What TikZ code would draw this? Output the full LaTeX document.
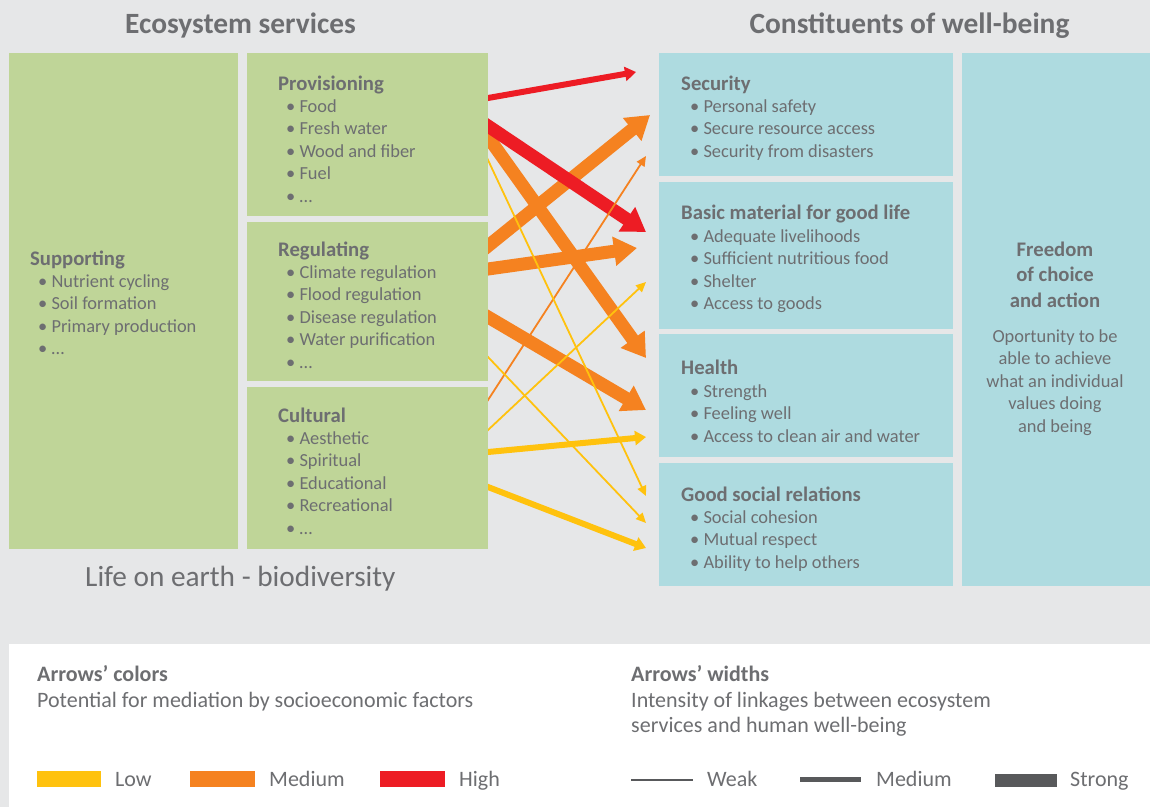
\documentclass[tikz,border=0pt]{standalone}
\usepackage{fontspec}
\setmainfont{Carlito}
\usetikzlibrary{arrows.meta}
\definecolor{bgc}{HTML}{E6E7E8}
\definecolor{grn}{HTML}{BFD598}
\definecolor{blu}{HTML}{AEDBE0}
\definecolor{txt}{HTML}{6D6E71}
\definecolor{hic}{HTML}{ED1C24}
\definecolor{mec}{HTML}{F58220}
\definecolor{loc}{HTML}{FFC20E}
\definecolor{dkc}{HTML}{58595B}
\newcommand\mybullets[4]{\foreach \t [count=\i] in {#4}{\node[itm] (#1\i) at (#2,{#3+22.5*(\i-1)}) {•\ \t};}}
\begin{document}
\begin{tikzpicture}[x=1pt,y=-1pt,
  panel/.style={inner sep=0,outer sep=0,anchor=north west},
  ttl/.style={anchor=base west,inner sep=0,text=txt,font=\fontsize{20.7}{25}\selectfont\bfseries},
  itm/.style={anchor=base west,inner sep=0,text=txt,font=\fontsize{18.4}{22}\selectfont},
  fbold/.style={anchor=base,inner sep=0,text=txt,font=\fontsize{20.7}{25}\selectfont\bfseries},
  freg/.style={anchor=base,inner sep=0,text=txt,font=\fontsize{18.4}{22}\selectfont},
  head/.style={anchor=base,inner sep=0,text=txt,font=\fontsize{29.4}{34}\selectfont\bfseries},
  leg/.style={anchor=base west,inner sep=0,text=txt,font=\fontsize{22}{26}\selectfont},
  legb/.style={anchor=base west,inner sep=0,text=txt,font=\fontsize{22}{26}\selectfont\bfseries},
  lnk/.style={shorten <=-14pt},
  strong/.style={lnk,line width=13pt,-{Triangle[length=23pt,width=28pt]}},
  medium/.style={lnk,line width=6pt,-{Triangle[length=11pt,width=14pt]}},
  weak/.style={lnk,line width=1.8pt,-{Triangle[length=10pt,width=9pt]}},
]
\useasboundingbox (0,0) rectangle (1150,807);
\fill[bgc] (0,0) rectangle (1150,807);
\fill[white] (9,644) rectangle (1150,807);

% arrow end points
\coordinate (a1s) at (488,98);  \coordinate (a1t) at (636,72);
\coordinate (a2s) at (488,126); \coordinate (a2t) at (646,232);
\coordinate (a3s) at (488,246); \coordinate (a3t) at (650,115);
\coordinate (a4s) at (488,137); \coordinate (a4t) at (646,358);
\coordinate (a5s) at (488,269); \coordinate (a5t) at (637,248);
\coordinate (a6s) at (488,317); \coordinate (a6t) at (646,410);
\coordinate (a7s) at (488,400); \coordinate (a7t) at (646,156);
\coordinate (a8s) at (488,160); \coordinate (a8t) at (646,496);
\coordinate (a9s) at (488,357); \coordinate (a9t) at (646,523);
\coordinate (a10s) at (488,430); \coordinate (a10t) at (646,282);
\coordinate (a11s) at (488,452); \coordinate (a11t) at (646,437);
\coordinate (a12s) at (488,487); \coordinate (a12t) at (646,548);

\draw[strong,mec] (a3s) -- (a3t);
\draw[strong,mec] (a4s) -- (a4t);
\draw[strong,mec] (a5s) -- (a5t);
\draw[strong,mec] (a6s) -- (a6t);
\draw[strong,hic] (a2s) -- (a2t);
\draw[medium,hic] (a1s) -- (a1t);
\draw[medium,loc] (a11s) -- (a11t);
\draw[medium,loc] (a12s) -- (a12t);
\draw[weak,mec] (a7s) -- (a7t);
\draw[weak,loc] (a8s) -- (a8t);
\draw[weak,loc] (a9s) -- (a9t);
\draw[weak,loc] (a10s) -- (a10t);

% boxes
\node[panel,fill=grn,minimum width=229pt,minimum height=496pt] (sup) at (9,53) {};
\node[panel,fill=grn,minimum width=241pt,minimum height=163pt] (prov) at (247,53) {};
\node[panel,fill=grn,minimum width=241pt,minimum height=159pt] (reg) at (247,222) {};
\node[panel,fill=grn,minimum width=241pt,minimum height=162pt] (cult) at (247,387) {};
\node[panel,fill=blu,minimum width=294pt,minimum height=123pt] (sec) at (659,53) {};
\node[panel,fill=blu,minimum width=294pt,minimum height=147pt] (basic) at (659,182) {};
\node[panel,fill=blu,minimum width=294pt,minimum height=123pt] (health) at (659,334) {};
\node[panel,fill=blu,minimum width=294pt,minimum height=123pt] (social) at (659,463) {};
\node[panel,fill=blu,minimum width=188pt,minimum height=533pt] (free) at (962,53) {};

% headings
\node[head] (hes) at (240.5,33.5) {Ecosystem services};
\node[head] (hwb) at (909.5,33.5) {Constituents of well-being};
\node[anchor=base west,inner sep=0,text=txt,font=\fontsize{29.3}{34}\selectfont] (life) at (85,586) {Life on earth - biodiversity};

% left texts
\node[ttl] (supT) at (30,265) {Supporting};
\mybullets{supI}{38}{287}{Nutrient cycling,Soil formation,Primary production,\ldots}
\node[ttl] (provT) at (278,90) {Provisioning};
\mybullets{provI}{286}{112}{Food,Fresh water,Wood and fiber,Fuel,\ldots}
\node[ttl] (regT) at (278,256) {Regulating};
\mybullets{regI}{286}{278}{Climate regulation,Flood regulation,Disease regulation,Water purification,\ldots}
\node[ttl] (cultT) at (278,422) {Cultural};
\mybullets{cultI}{286}{444}{Aesthetic,Spiritual,Educational,Recreational,\ldots}

% right texts
\node[ttl] (secT) at (681,90) {Security};
\mybullets{secI}{690}{112}{Personal safety,Secure resource access,Security from disasters}
\node[ttl] (basT) at (681,219) {Basic material for good life};
\mybullets{basI}{690}{242}{Adequate livelihoods,Sufficient nutritious food,Shelter,Access to goods}
\node[ttl] (heaT) at (681,374) {Health};
\mybullets{heaI}{690}{397}{Strength,Feeling well,Access to clean air and water}
\node[ttl] (socT) at (681,501) {Good social relations};
\mybullets{socI}{690}{523}{Social cohesion,Mutual respect,Ability to help others}

% freedom
\node[fbold] (fr1) at (1055,256) {Freedom};
\node[fbold] (fr2) at (1055,281) {of choice};
\node[fbold] (fr3) at (1055,307) {and action};
\node[freg] (fd1) at (1055,342) {Oportunity to be};
\node[freg] (fd2) at (1055,364) {able to achieve};
\node[freg] (fd3) at (1055,387) {what an individual};
\node[freg] (fd4) at (1055,409) {values doing};
\node[freg] (fd5) at (1055,432) {and being};

% legend colours
\node[legb] (lcT) at (37,681) {Arrows’ colors};
\node[leg] (lcD) at (37,707) {Potential for mediation by socioeconomic factors};
\node[panel,fill=loc,minimum width=64pt,minimum height=16pt] (swLo) at (37,771) {};
\node[leg] (lLo) at (115,786) {Low};
\node[panel,fill=mec,minimum width=65pt,minimum height=16pt] (swMe) at (190,771) {};
\node[leg] (lMe) at (269,786) {Medium};
\node[panel,fill=hic,minimum width=65pt,minimum height=16pt] (swHi) at (380,771) {};
\node[leg] (lHi) at (459,786) {High};

% legend widths
\node[legb] (lwT) at (631,681) {Arrows’ widths};
\node[leg] (lwD1) at (631,707) {Intensity of linkages between ecosystem};
\node[leg] (lwD2) at (631,732) {services and human well-being};
\node[panel,fill=dkc,minimum width=62pt,minimum height=2pt] (wWk) at (631,779) {};
\node[leg] (lWk) at (707,786) {Weak};
\node[panel,fill=dkc,minimum width=61pt,minimum height=5pt] (wMd) at (800,777) {};
\node[leg] (lMd) at (876,786) {Medium};
\node[panel,fill=dkc,minimum width=62pt,minimum height=13pt] (wSt) at (995,774) {};
\node[leg] (lSt) at (1070,786) {Strong};
\end{tikzpicture}
\end{document}
